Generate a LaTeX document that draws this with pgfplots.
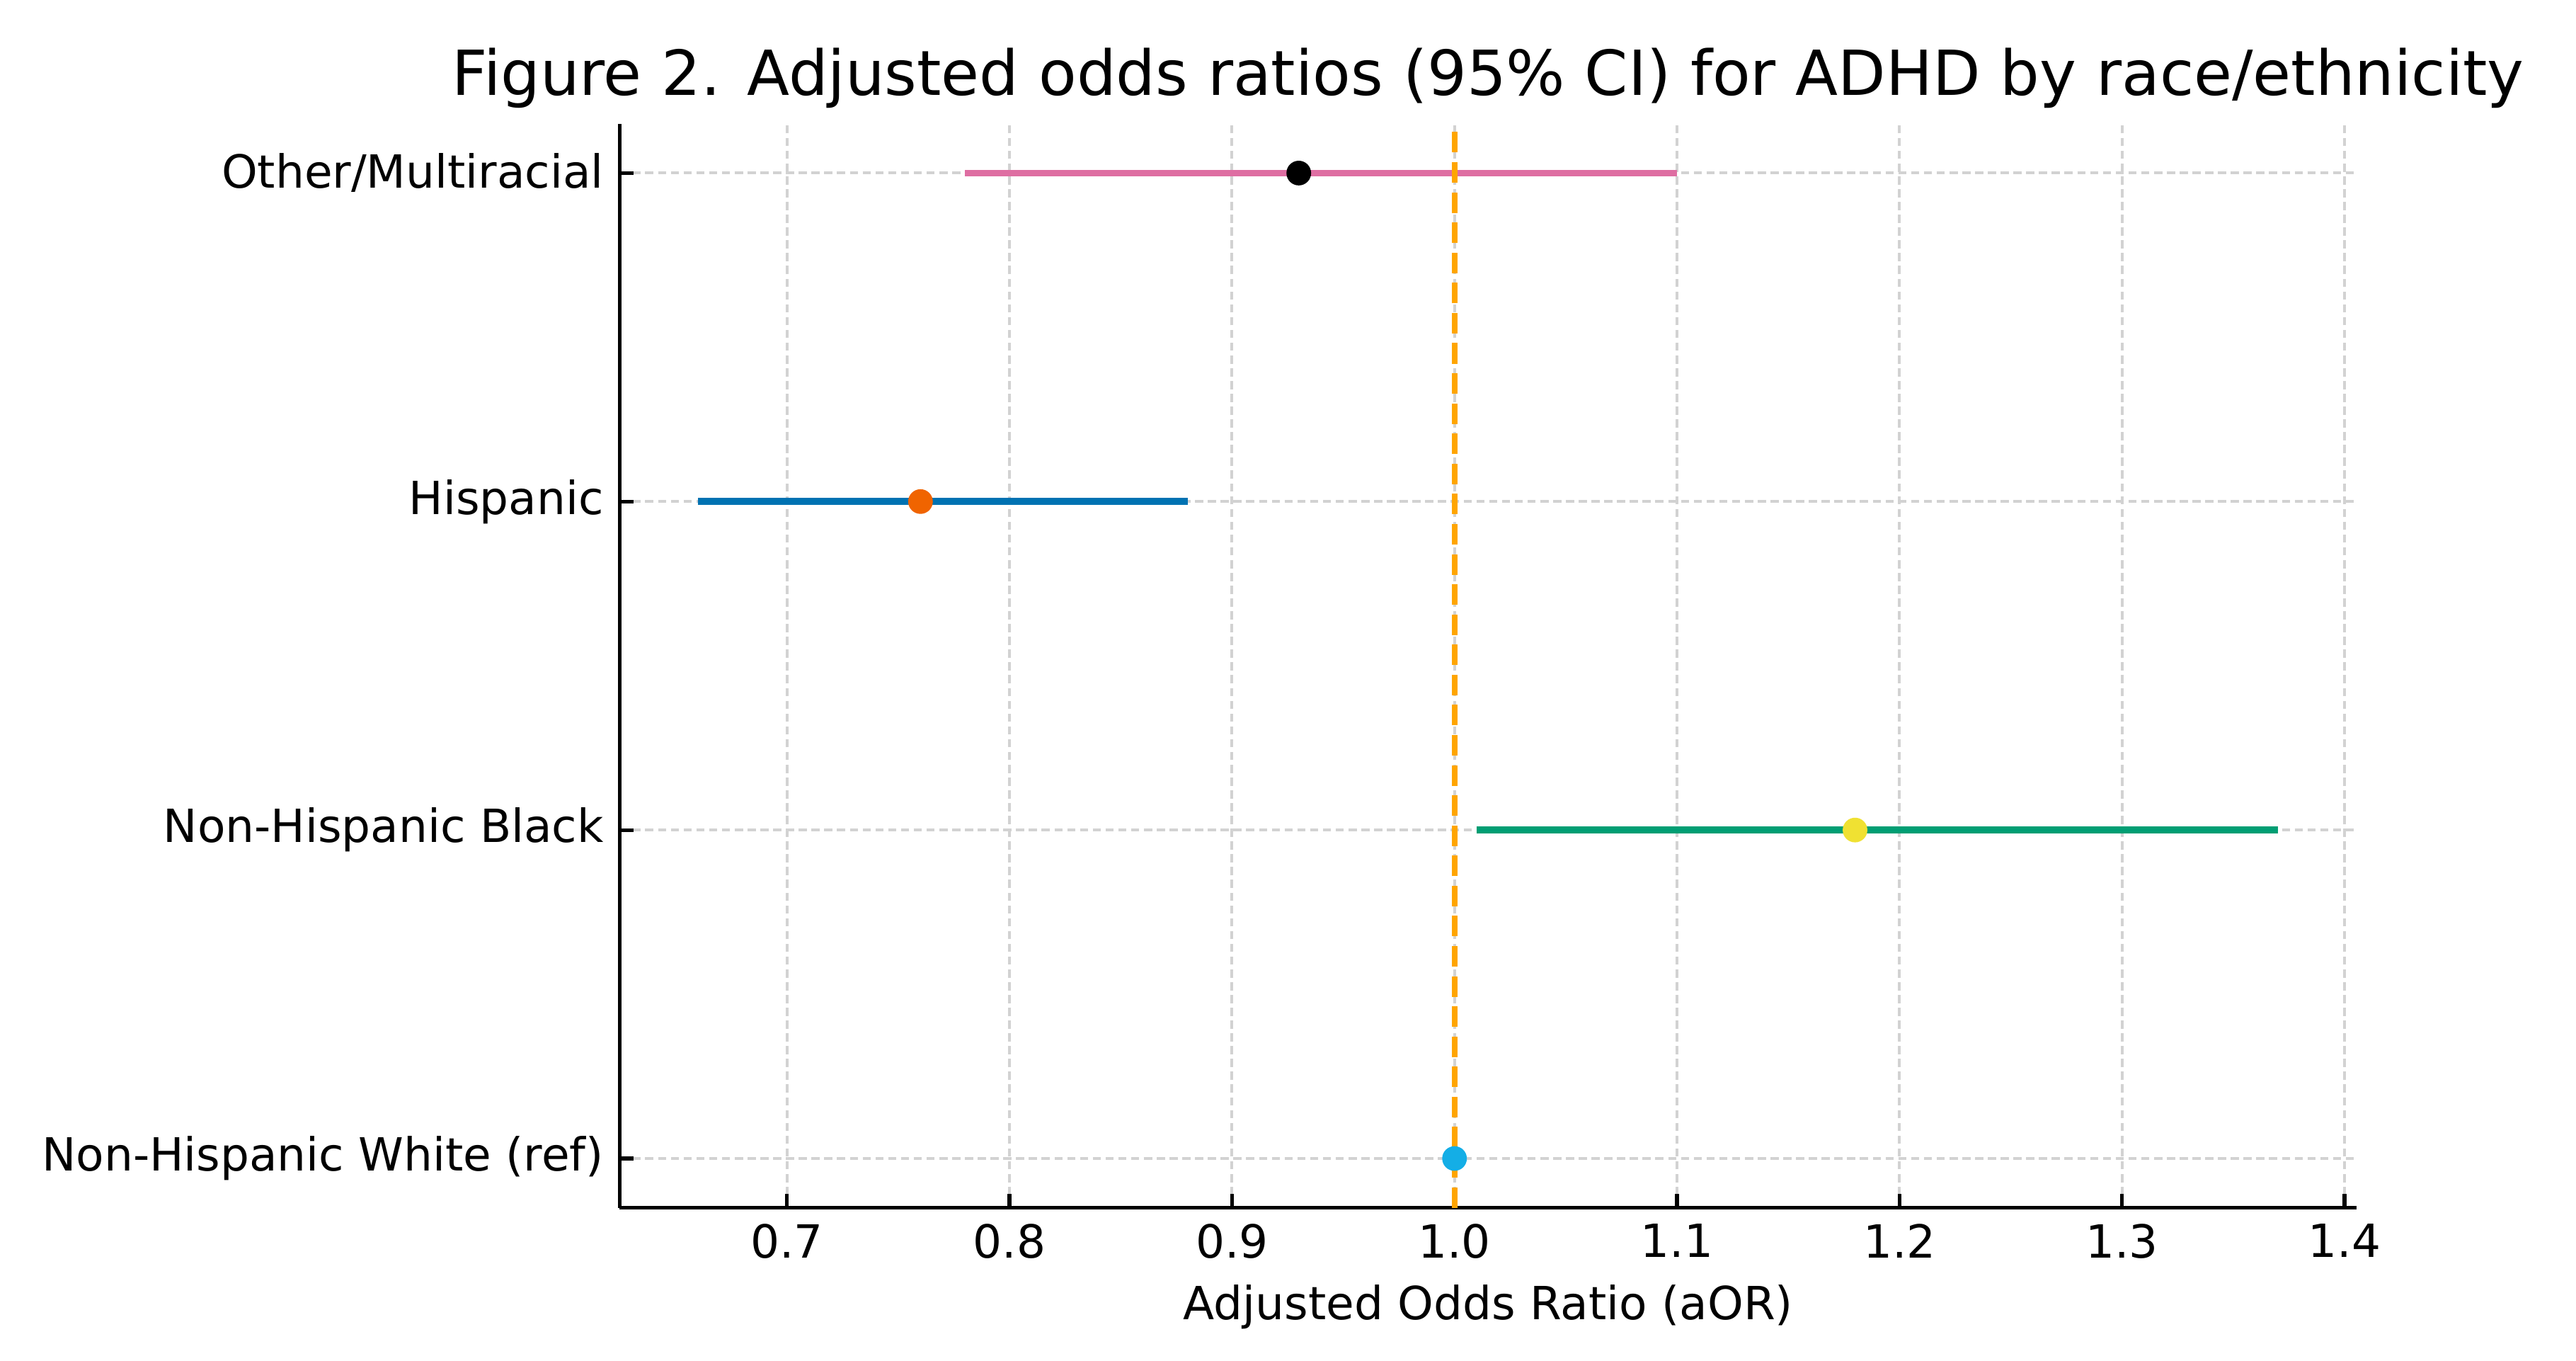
\documentclass[border=0pt]{standalone}
\usepackage{fontspec}
\setmainfont{DejaVu Sans}
\usepackage{pgfplots}
\pgfplotsset{compat=1.18}
\definecolor{pinkc}{RGB}{222,110,162}
\definecolor{bluec}{RGB}{0,114,178}
\definecolor{greenc}{RGB}{0,158,115}
\definecolor{orangeline}{RGB}{255,165,0}
\definecolor{orangedot}{RGB}{240,100,0}
\definecolor{yellowc}{RGB}{240,225,50}
\definecolor{skyc}{RGB}{20,174,230}
\definecolor{gridc}{RGB}{210,210,210}
\begin{document}
\begin{tikzpicture}
\begin{axis}[
  scale only axis,
  width=380.4pt, height=237.3pt,
  xmin=0.6248, xmax=1.4055,
  ymin=-0.15, ymax=3.15,
  axis x line*=bottom, axis y line*=left,
  axis line style={-, black, line width=0.8pt},
  xtick={0.7,0.8,0.9,1.0,1.1,1.2,1.3,1.4},
  xticklabels={0.7,0.8,0.9,1.0,1.1,1.2,1.3,1.4},
  ytick={0,1,2,3},
  yticklabels={Non-Hispanic White (ref),Non-Hispanic Black,Hispanic,Other/Multiracial},
  /pgf/number format/assume math mode=true,
  tick align=inside,
  major tick length=3pt,
  tick style={black, line width=0.8pt},
  ticklabel style={font=\fontsize{10}{12}\selectfont},
  grid=major,
  major grid style={gridc, line width=0.6pt, dash pattern=on 1.8pt off 1.0pt},
  xlabel={Adjusted Odds Ratio (aOR)},
  xlabel style={font=\fontsize{10}{12}\selectfont, at={(axis description cs:0.5,0)}, anchor=north, yshift=-13.3pt},
  title={Figure 2. Adjusted odds ratios (95\% CI) for ADHD by race/ethnicity},
  title style={font=\fontsize{13.6}{16}\selectfont, at={(axis description cs:0.5,1)}, anchor=base, yshift=0.2pt, inner sep=0pt},
]
\coordinate (sw) at (rel axis cs:0,0);
\coordinate (ne) at (rel axis cs:1,1);
% CI lines
\addplot[pinkc, line width=1.5pt] coordinates {(0.78,3) (1.10,3)};
\addplot[bluec, line width=1.5pt] coordinates {(0.66,2) (0.88,2)};
\addplot[greenc, line width=1.5pt] coordinates {(1.01,1) (1.37,1)};
% point estimates
\addplot[only marks, mark=*, mark size=2.5pt, black, mark options={draw=black, fill=black}] coordinates {(0.93,3)};
\addplot[only marks, mark=*, mark size=2.5pt, orangedot, mark options={draw=orangedot, fill=orangedot}] coordinates {(0.76,2)};
\addplot[only marks, mark=*, mark size=2.5pt, yellowc, mark options={draw=yellowc, fill=yellowc}] coordinates {(1.18,1)};
\addplot[only marks, mark=*, mark size=2.5pt, skyc, mark options={draw=skyc, fill=skyc}] coordinates {(1.00,0)};
% reference line
\addplot[orangeline, line width=1.25pt, dash pattern=on 4.5pt off 2.1pt] coordinates {(1,-0.15) (1,3.15)};
\end{axis}
\pgfresetboundingbox
\path[use as bounding box] ([shift={(-135.7pt,-33.5pt)}]sw) rectangle ([shift={(48pt,27.1pt)}]ne);
\end{tikzpicture}
\end{document}
